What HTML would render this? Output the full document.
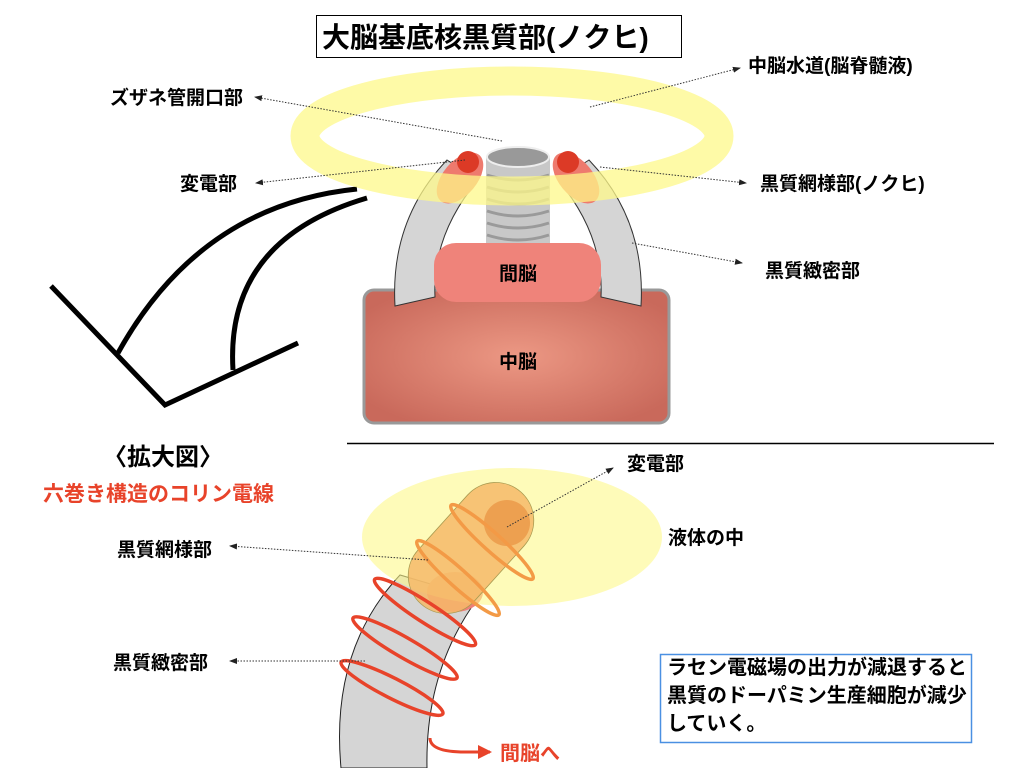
<!DOCTYPE html>
<html><head><meta charset="utf-8"><style>
html,body{margin:0;padding:0;background:#fff;}
svg{display:block;}
text{font-family:"Liberation Sans","Noto Sans CJK JP",sans-serif;font-weight:bold;}
</style></head><body>
<svg width="1024" height="768" viewBox="0 0 1024 768" xmlns="http://www.w3.org/2000/svg">
<defs>
<radialGradient id="mid" cx="50%" cy="50%" r="60%">
<stop offset="0" stop-color="#ec9884"/><stop offset="1" stop-color="#c9695b"/>
</radialGradient>
<marker id="ar" markerWidth="8" markerHeight="8" refX="7" refY="4" orient="auto" markerUnits="userSpaceOnUse">
<path d="M0,1 L8,4 L0,7z" fill="#222"/></marker>
<marker id="rar" markerWidth="14" markerHeight="14" refX="12" refY="7" orient="auto" markerUnits="userSpaceOnUse">
<path d="M0,0 L14,7 L0,14z" fill="#e8432a"/></marker>
</defs>

<rect x="316.5" y="15.5" width="365" height="42" fill="#fff" stroke="#000" stroke-width="1"/>
<text x="322" y="47" font-size="28">大脳基底核黒質部(ノクヒ)</text>

<g fill="none" stroke="#000" stroke-width="5">
<polyline points="51,286 165,405 298,343"/>
<path d="M118,353 Q200,205 357,189"/>
<path d="M233,370 Q225,240 367,198"/>
</g>

<rect x="364" y="290" width="305" height="133" rx="10" fill="url(#mid)" stroke="#999" stroke-width="3"/>
<path d="M395,306 Q390,220 447,160 L478,180 Q432,235 435,297 Z" fill="#d5d5d5" stroke="#333" stroke-width="1"/>
<path d="M641,306 Q646,220 589,160 L558,180 Q604,235 601,297 Z" fill="#d5d5d5" stroke="#333" stroke-width="1"/>
<ellipse cx="460" cy="178" rx="17" ry="30" transform="rotate(40 460 178)" fill="#ee7a6e"/>
<ellipse cx="576" cy="178" rx="17" ry="30" transform="rotate(-40 576 178)" fill="#ee7a6e"/>
<circle cx="468" cy="162" r="11" fill="#dc3a26"/>
<circle cx="568" cy="162" r="11" fill="#dc3a26"/>
<rect x="486" y="157" width="64" height="88" fill="#c8c8c8"/>
<g fill="none" stroke="#9a9a9a" stroke-width="3">
<path d="M487,175 Q518,185 549,175"/><path d="M487,187 Q518,197 549,187"/>
<path d="M487,199 Q518,209 549,199"/><path d="M487,211 Q518,221 549,211"/>
<path d="M487,223 Q518,233 549,223"/><path d="M487,235 Q518,245 549,235"/>
</g>
<ellipse cx="518" cy="157" rx="31" ry="10" fill="#999" stroke="#eee" stroke-width="2"/>
<rect x="434" y="243" width="167" height="59" rx="22" fill="#ef837a"/>
<text x="518" y="280" font-size="19" text-anchor="middle">間脳</text>
<text x="518" y="368" font-size="19" text-anchor="middle">中脳</text>
<ellipse cx="512" cy="136" rx="207" ry="55" fill="none" stroke="#fdf88a" stroke-opacity="0.75" stroke-width="29"/>

<g stroke="#333" stroke-width="1" stroke-dasharray="1.5,1.5" fill="none">
<line x1="502" y1="141" x2="255" y2="97" marker-end="url(#ar)"/>
<line x1="465" y1="160" x2="256" y2="183" marker-end="url(#ar)"/>
<line x1="590" y1="107" x2="740" y2="68" marker-end="url(#ar)"/>
<line x1="600" y1="167" x2="746" y2="183" marker-end="url(#ar)"/>
<line x1="632" y1="243" x2="742" y2="263" marker-end="url(#ar)"/>
</g>
<text x="110" y="104" font-size="19">ズザネ管開口部</text>
<text x="180" y="190" font-size="19">変電部</text>
<text x="748" y="72" font-size="19">中脳水道(脳脊髄液)</text>
<text x="760" y="190" font-size="19">黒質網様部(ノクヒ)</text>
<text x="765" y="277" font-size="19">黒質緻密部</text>

<line x1="347" y1="443.5" x2="994" y2="443.5" stroke="#000" stroke-width="1.5"/>
<text x="103" y="465" font-size="24">〈拡大図〉</text>
<text x="43" y="501" font-size="21" fill="#e8432a">六巻き構造のコリン電線</text>

<path d="M341,768 Q330,650 400,575 L478,598 Q425,670 427,768 Z" fill="#d5d5d5" stroke="#222" stroke-width="1"/>
<ellipse cx="455" cy="592" rx="28" ry="20" fill="#ee8078"/>
<ellipse cx="512" cy="537" rx="150" ry="69" fill="#fdf88a" fill-opacity="0.6"/>
<rect x="396" y="510" width="150" height="76" rx="38" transform="rotate(-48 471 548)" fill="#f6b868" fill-opacity="0.85" stroke="#a89a50" stroke-width="0.8"/>
<circle cx="507" cy="523" r="23" fill="#eda050"/>
<g fill="none" stroke-width="3.5">
<g stroke="#f39a46">
<ellipse cx="492" cy="542" rx="55" ry="9" transform="rotate(42 492 542)"/>
<ellipse cx="458" cy="578" rx="55" ry="9" transform="rotate(42 458 578)"/>
</g>
<g stroke="#e8432a">
<ellipse cx="425" cy="612" rx="60" ry="10" transform="rotate(33 425 612)"/>
<ellipse cx="405" cy="648" rx="60" ry="10" transform="rotate(30 405 648)"/>
<ellipse cx="392" cy="688" rx="57" ry="10" transform="rotate(27 392 688)"/>
</g>
</g>
<path d="M430,738 Q430,752 465,752 L490,752" fill="none" stroke="#e8432a" stroke-width="3" marker-end="url(#rar)"/>
<text x="500" y="760" font-size="20" fill="#e8432a">間脳へ</text>

<g stroke="#333" stroke-width="1" stroke-dasharray="1.5,1.5" fill="none">
<line x1="507" y1="527" x2="613" y2="468" marker-end="url(#ar)"/>
<line x1="428" y1="560" x2="230" y2="546" marker-end="url(#ar)"/>
<line x1="365" y1="661" x2="230" y2="661" marker-end="url(#ar)"/>
</g>
<text x="627" y="470" font-size="19">変電部</text>
<text x="668" y="544" font-size="19">液体の中</text>
<text x="117" y="556" font-size="19">黒質網様部</text>
<text x="113" y="669" font-size="19">黒質緻密部</text>

<rect x="660.5" y="654.5" width="311" height="88" fill="#fff" stroke="#4a90e2" stroke-width="1.5"/>
<g font-size="20"><text x="667" y="674">ラセン電磁場の出力が減退すると</text>
<text x="667" y="702">黒質のドーパミン生産細胞が減少</text>
<text x="667" y="730">していく。</text></g>
</svg>
</body></html>
